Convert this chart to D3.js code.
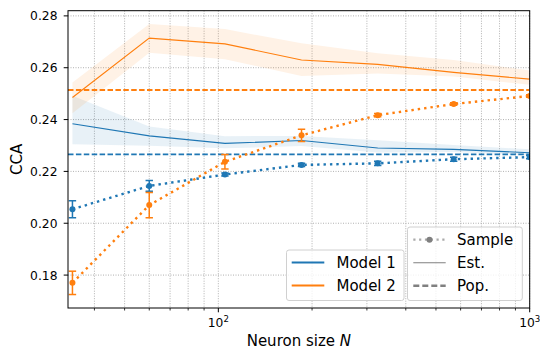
<!DOCTYPE html>
<html>
<head>
<meta charset="utf-8">
<script src="https://cdn.jsdelivr.net/npm/d3@7"></script>
<style>
  body { margin: 0; background: #fff; }
  svg { font-family: "DejaVu Sans", sans-serif; }
</style>
</head>
<body>
<div id="main"></div>
<script>
const width = 540;
const height = 349;

// neuron sizes (x)
const sizes = [34, 60, 105, 185, 325, 570, 1000];

// sample CCA (dotted, with error bars)
const sample1 = [0.2054, 0.2144, 0.2188, 0.2225, 0.2231, 0.2247, 0.2255];
const sample1Err = [0.0033, 0.0021, 0.0006, 0.0006, 0.0008, 0.0008, 0.0006];
const sample2 = [0.1770, 0.2070, 0.2237, 0.2339, 0.2417, 0.2460, 0.2491];
const sample2Err = [0.0045, 0.0049, 0.0028, 0.0024, 0.0006, 0.0005, 0.0005];

// estimated CCA (solid) with band
const est1 = [0.2384, 0.2337, 0.2308, 0.2319, 0.2290, 0.2285, 0.2272];
const est1Lo = [0.2305, 0.2299, 0.2289, 0.2298, 0.2273, 0.2275, 0.2263];
const est1Hi = [0.2492, 0.2373, 0.2336, 0.2337, 0.2320, 0.2302, 0.2285];
const est2 = [0.2485, 0.2714, 0.2692, 0.2630, 0.2613, 0.2582, 0.2556];
const est2Lo = [0.2424, 0.2658, 0.2633, 0.2568, 0.2578, 0.2566, 0.2534];
const est2Hi = [0.2543, 0.2769, 0.2749, 0.2694, 0.2656, 0.2630, 0.2589];

// population CCA (dashed)
const pop1 = 0.2266;
const pop2 = 0.2514;

const yTicks = [0.18, 0.20, 0.22, 0.24, 0.26, 0.28];
const xMajor = [100, 1000];

const blue = '#1f77b4';
const orange = '#ff7f0e';

const margin = {left: 68, right: 10.3, top: 10.7, bottom: 41};

const svg = d3.select('#main')
    .append('svg')
    .attr('width', width)
    .attr('height', height);

const x = d3.scaleLog()
    .domain([32.9, 1000])
    .range([margin.left, width - margin.right]);

const y = d3.scaleLinear()
    .domain([0.1673, 0.282])
    .range([height - margin.bottom, margin.top]);

const x0 = x.range()[0], x1 = x.range()[1];
const yb = y.range()[0], yt = y.range()[1];

svg.append('defs').append('clipPath').attr('id', 'clip')
    .append('rect')
    .attr('x', x0).attr('y', yt)
    .attr('width', x1 - x0).attr('height', yb - yt);

// grid
const minor = [];
for (let d = 10; d <= 1000; d *= 10) {
    for (let k = 1; k < 10; k++) {
        const v = d * k;
        if (v > 32.9 && v <= 1000) minor.push(v);
    }
}
const grid = svg.append('g');
grid.selectAll('line.vx')
    .data(minor)
    .enter().append('line')
    .attr('x1', d => x(d)).attr('x2', d => x(d))
    .attr('y1', yt).attr('y2', yb)
    .attr('stroke', '#a8a8a8')
    .attr('stroke-width', 0.9)
    .attr('stroke-dasharray', '1,1.5');
grid.selectAll('line.hy')
    .data(yTicks)
    .enter().append('line')
    .attr('x1', x0).attr('x2', x1)
    .attr('y1', d => y(d)).attr('y2', d => y(d))
    .attr('stroke', '#a8a8a8')
    .attr('stroke-width', 0.9)
    .attr('stroke-dasharray', '1,1.5');

const plot = svg.append('g').attr('clip-path', 'url(#clip)');

const idx = d3.range(sizes.length);

function band(lo, hi, color) {
    const area = d3.area()
        .x(i => x(sizes[i]))
        .y0(i => y(lo[i]))
        .y1(i => y(hi[i]));
    plot.append('path')
        .attr('d', area(idx))
        .attr('fill', color)
        .attr('fill-opacity', 0.1);
}
band(est1Lo, est1Hi, blue);
band(est2Lo, est2Hi, orange);

function line(vals, color, w, dash) {
    const l = d3.line().x(i => x(sizes[i])).y(i => y(vals[i]));
    const p = plot.append('path')
        .attr('d', l(idx))
        .attr('fill', 'none')
        .attr('stroke', color)
        .attr('stroke-width', w);
    if (dash) p.attr('stroke-dasharray', dash);
    return p;
}
line(est1, blue, 1.1);
line(est2, orange, 1.1);

// population
[[pop1, blue], [pop2, orange]].forEach(([v, c]) => {
    plot.append('line')
        .attr('x1', x0).attr('x2', x1)
        .attr('y1', y(v)).attr('y2', y(v))
        .attr('stroke', c)
        .attr('stroke-width', 1.8)
        .attr('stroke-dasharray', '5.5,2.4');
});

function sample(vals, errs, color) {
    line(vals, color, 2.4, '2.4,4');
    const g = plot.append('g');
    idx.forEach(i => {
        const cx = x(sizes[i]);
        const top = y(vals[i] + errs[i]), bot = y(vals[i] - errs[i]);
        g.append('line').attr('x1', cx).attr('x2', cx).attr('y1', top).attr('y2', bot)
            .attr('stroke', color).attr('stroke-width', 1.5);
        [top, bot].forEach(yy => g.append('line')
            .attr('x1', cx - 3.7).attr('x2', cx + 3.7).attr('y1', yy).attr('y2', yy)
            .attr('stroke', color).attr('stroke-width', 1.5));
        g.append('circle').attr('cx', cx).attr('cy', y(vals[i])).attr('r', 3)
            .attr('fill', color);
    });
}
sample(sample1, sample1Err, blue);
sample(sample2, sample2Err, orange);

// axes frame
svg.append('rect')
    .attr('x', x0).attr('y', yt)
    .attr('width', x1 - x0).attr('height', yb - yt)
    .attr('fill', 'none')
    .attr('stroke', '#000')
    .attr('stroke-width', 1);

// y ticks
const yAxis = svg.append('g');
yTicks.forEach(t => {
    yAxis.append('line')
        .attr('x1', x0 - 4.3).attr('x2', x0)
        .attr('y1', y(t)).attr('y2', y(t))
        .attr('stroke', '#000').attr('stroke-width', 1);
    yAxis.append('text')
        .attr('x', x0 - 10.5).attr('y', y(t))
        .attr('dy', '0.36em')
        .attr('text-anchor', 'end')
        .attr('font-size', 12.3)
        .text(t.toFixed(2));
});

// x ticks
const xAxis = svg.append('g');
minor.forEach(v => {
    const major = xMajor.includes(v);
    xAxis.append('line')
        .attr('x1', x(v)).attr('x2', x(v))
        .attr('y1', yb).attr('y2', yb + (major ? 4.3 : 2.5))
        .attr('stroke', '#000').attr('stroke-width', major ? 1 : 0.8);
});
xMajor.forEach(v => {
    const t = xAxis.append('text')
        .attr('x', x(v)).attr('y', yb + 19.3)
        .attr('text-anchor', 'middle')
        .attr('font-size', 12.3);
    t.append('tspan').text('10');
    t.append('tspan').attr('dy', -5).attr('font-size', 8.6).text(Math.round(Math.log10(v)));
});

// axis labels
svg.append('text')
    .attr('x', (x0 + x1) / 2).attr('y', 346)
    .attr('text-anchor', 'middle')
    .attr('font-size', 15)
    .html('Neuron size <tspan font-style="italic">N</tspan>');

svg.append('text')
    .attr('transform', `translate(21.5,${(yt + yb) / 2}) rotate(-90)`)
    .attr('text-anchor', 'middle')
    .attr('font-size', 15)
    .text('CCA');

// legends
function legendBox(bx, by, bw, bh) {
    svg.append('rect')
        .attr('x', bx).attr('y', by).attr('width', bw).attr('height', bh)
        .attr('rx', 2.5)
        .attr('fill', '#fff').attr('fill-opacity', 0.8)
        .attr('stroke', '#d0d0d0').attr('stroke-width', 1);
}

const models = ['Model 1', 'Model 2'];
const modelColors = [blue, orange];
legendBox(286.5, 250, 117.5, 50.5);
models.forEach((m, i) => {
    const yy = 262.5 + i * 23;
    svg.append('line')
        .attr('x1', 291.7).attr('x2', 324.3).attr('y1', yy).attr('y2', yy)
        .attr('stroke', modelColors[i]).attr('stroke-width', 1.8);
    svg.append('text')
        .attr('x', 336.5).attr('y', yy).attr('dy', '0.36em')
        .attr('font-size', 15)
        .text(m);
});

const kinds = ['Sample', 'Est.', 'Pop.'];
const gray = '#808080';
legendBox(407.5, 227, 114.8, 73.5);
kinds.forEach((k, i) => {
    const yy = 239.7 + i * 23;
    const l = svg.append('line')
        .attr('x1', 413.3).attr('x2', 445.7).attr('y1', yy).attr('y2', yy)
        .attr('stroke', gray);
    if (i === 0) {
        l.attr('stroke-width', 2.2).attr('stroke-dasharray', '2.2,3.6').attr('stroke', '#aaa');
        svg.append('circle').attr('cx', 429.5).attr('cy', yy).attr('r', 3).attr('fill', gray);
    } else if (i === 1) {
        l.attr('stroke-width', 1.1);
    } else {
        l.attr('stroke-width', 2.4).attr('stroke-dasharray', '6,3');
    }
    svg.append('text')
        .attr('x', 457).attr('y', yy).attr('dy', '0.36em')
        .attr('font-size', 15)
        .text(k);
});
</script>
</body>
</html>
